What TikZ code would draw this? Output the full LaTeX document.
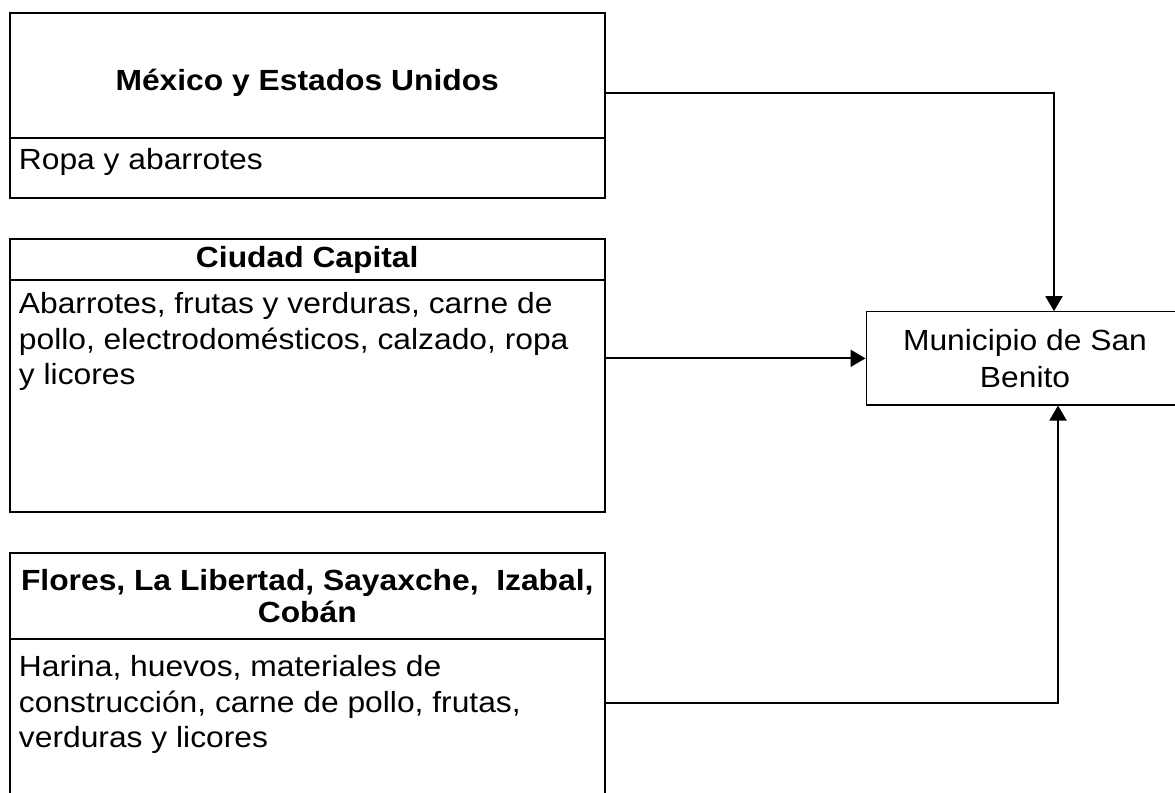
\documentclass[tikz,border=0pt]{standalone}
\usepackage{fontspec}
\setmainfont{Liberation Sans}[FakeStretch=1.09]
\usetikzlibrary{shapes,arrows.meta,positioning,calc}

\begin{document}
\begin{tikzpicture}[x=0.02cm, y=-0.02cm, font=\fontsize{16.6}{20.2}\selectfont,
  marco/.style={draw, rectangle, line width=1.1pt, inner sep=0pt, minimum width=11.91cm},
  titulo/.style={marco, font=\fontsize{16.6}{18.1}\selectfont\bfseries, align=center},
  texto/.style={inner sep=0pt, align=left},
  flecha/.style={-{Triangle[length=0.3cm, width=0.34cm]}, line width=1.1pt}]
\useasboundingbox (0,0) rectangle (1175,793);

% origen: Mexico y Estados Unidos
\node[marco, minimum height=3.71cm] (mex) at (307.25,105.35) {};
\node[titulo, minimum height=2.5cm, anchor=north, text height=0.75cm, text depth=0.15cm] (mexT) at (mex.north) {México y Estados Unidos};
\node[texto, below right=0.18cm and 0.2cm of mexT.south west] (mexC) {Ropa y abarrotes};

% origen: Ciudad Capital
\node[marco, minimum height=5.46cm] (cap) at (307.25,375.5) {};
\node[titulo, minimum height=0.82cm, anchor=north] (capT) at (cap.north) {Ciudad Capital};
\node[texto, below right=0.23cm and 0.2cm of capT.south west] (capC) {Abarrotes, frutas y verduras, carne de\\pollo, electrodomésticos, calzado, ropa\\y licores};

% origen: Flores, La Libertad...
\node[marco, minimum height=5.34cm] (flo) at (307.25,686.5) {};
\node[titulo, minimum height=1.72cm, anchor=north] (floT) at (flo.north) {Flores, La Libertad, Sayaxche,\ \ Izabal,\\Cobán};
\node[texto, below right=0.31cm and 0.2cm of floT.south west] (floC) {Harina, huevos, materiales de\\construcción, carne de pollo, frutas,\\verduras y licores};

% destino
\node[draw, rectangle, line width=0.6pt, minimum width=6.36cm, minimum height=1.866cm, align=center,
  font=\fontsize{16.6}{20.8}\selectfont] (sb) at (1025,358.35) {Municipio de San\\Benito};

% conexiones
\draw[flecha] ([yshift=0.247cm]mex.east) -| ([xshift=0.58cm]sb.north);
\draw[flecha] (cap.east |- sb.west) -- (sb.west);
\draw[flecha] ([yshift=-0.33cm]flo.east) -| ([xshift=0.66cm]sb.south);
\end{tikzpicture}
\end{document}
